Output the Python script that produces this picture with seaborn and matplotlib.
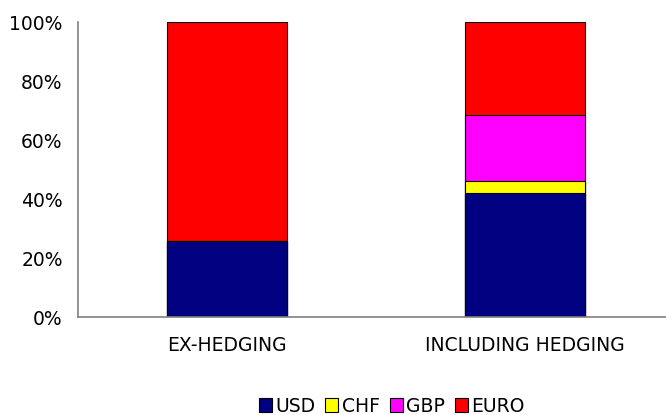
import matplotlib.pyplot as plt
import seaborn as sns
import pandas as pd
import numpy as np

categories = ["EX-HEDGING", "INCLUDING HEDGING"]
usd = [25.7, 42.1]
chf = [0.0, 4.1]
gbp = [0.0, 22.5]
euro = [74.3, 31.3]

series = [("USD", usd, "#000080"), ("CHF", chf, "#FFFF00"),
          ("GBP", gbp, "#FF00FF"), ("EURO", euro, "#FF0000")]

sns.set_theme(style="white", rc={"text.color": "black", "xtick.color": "black",
                                 "ytick.color": "black", "xtick.major.size": 0,
                                 "ytick.major.size": 0})
plt.rcParams['font.family'] = ['DejaVu Sans']

fig = plt.figure(figsize=(6.66, 4.15), dpi=100)
ax = fig.add_axes([78 / 666, (415 - 317) / 415, (674 - 78) / 666, 294.5 / 415])

# stacked bars: draw cumulative totals, tallest first
cum = np.cumsum([np.array(v) for _, v, _ in series], axis=0)
for (name, _, color), tops in reversed(list(zip(series, cum))):
    df = pd.DataFrame({"cat": categories, "val": tops})
    sns.barplot(data=df, x="cat", y="val", color=color, width=0.4,
                edgecolor="black", linewidth=0.8, saturation=1, ax=ax, label=name)

fs = 13.5
ax.set_xlim(-0.5, 1.5)
ax.set_ylim(0, 100)
ax.set_yticks([0, 20, 40, 60, 80, 100])
ax.set_yticklabels([f"{t}%" for t in range(0, 101, 20)], fontsize=fs)
ax.tick_params(axis="x", labelsize=fs, pad=14, colors="black")
ax.tick_params(axis="y", pad=11, colors="black")
ax.set_xlabel("")
ax.set_ylabel("")
for s in ["top", "right"]:
    ax.spines[s].set_visible(False)
for s in ["left", "bottom"]:
    ax.spines[s].set_color("#808080")
    ax.spines[s].set_linewidth(1.2)

handles, labels = ax.get_legend_handles_labels()
order = ["USD", "CHF", "GBP", "EURO"]
hmap = dict(zip(labels, handles))
fig.legend([hmap[k] for k in order], order, loc="center", bbox_to_anchor=(392 / 666, 1 - 406 / 415),
           ncol=4, frameon=False, fontsize=fs, handlelength=0.7, handleheight=0.7,
           handletextpad=0.2, columnspacing=0.5, borderpad=0.2)
if ax.get_legend():
    ax.get_legend().remove()

fig.savefig("out.png", dpi=100)
